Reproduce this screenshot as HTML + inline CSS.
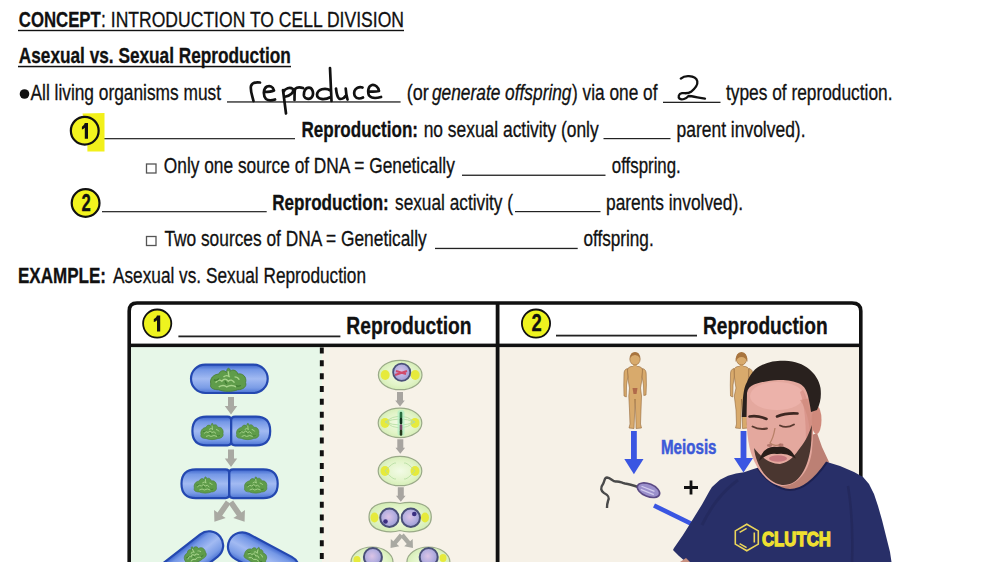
<!DOCTYPE html>
<html><head><meta charset="utf-8"><style>
html,body{margin:0;padding:0;background:#fff;width:1000px;height:562px;overflow:hidden}
svg{display:block}
text{font-family:"Liberation Sans",sans-serif;fill:#111;stroke:#111;stroke-width:0.3}
.b{font-weight:bold}
.i{font-style:italic}
</style></head><body>
<svg width="1000" height="562" viewBox="0 0 1000 562">
<rect width="1000" height="562" fill="#fff"/>
<defs>
<linearGradient id="bac" x1="0" y1="0" x2="0" y2="1">
<stop offset="0" stop-color="#3a62cc"/><stop offset="0.18" stop-color="#7598e6"/><stop offset="0.5" stop-color="#a2baf2"/><stop offset="0.82" stop-color="#7a9ce6"/><stop offset="1" stop-color="#4a72d4"/>
</linearGradient>
<radialGradient id="nuc" cx="0.5" cy="0.5" r="0.5">
<stop offset="0" stop-color="#a8d090"/><stop offset="0.5" stop-color="#6aa050"/><stop offset="1" stop-color="#4a8a3a"/>
</radialGradient>
<radialGradient id="cellg" cx="0.5" cy="0.5" r="0.5">
<stop offset="0" stop-color="#f2fbe6"/><stop offset="0.7" stop-color="#e2f4c8"/><stop offset="1" stop-color="#d6eeb8"/>
</radialGradient>
<radialGradient id="nucl" cx="0.45" cy="0.45" r="0.55">
<stop offset="0" stop-color="#dcc4e6"/><stop offset="0.6" stop-color="#b6b0e0"/><stop offset="1" stop-color="#9c9cd4"/>
</radialGradient>
<g id="nd">
<path d="M-11 3 C-12 -1 -9 -4 -6 -4 C-5 -7 -2 -7 -1 -5 C-1 -9 1 -9 1.5 -6 C3 -8 6 -6 6 -4 C9 -5 12 -2 11 2 C12 5 9 7 6 7 C3 8.5 -3 8.5 -6 7 C-9 7 -12 6 -11 3Z" fill="#5f9c4a" stroke="#4a8038" stroke-width="0.6"/>
<path d="M-8 2 q2-3 4-1 q2-3 4 0 q2-2 4 1 M-6 5 q3-2 5 0 q3-2 6 0 M-3-2 q2-2 4 0 M0 -6 l0.5 4 M4 -2 q2 0 3 2" stroke="#a8d48c" stroke-width="0.9" fill="none"/>
<path d="M-9 0 q2 1 3-1 M5 4 q1 1 3 0 M-2 1 l1 2" stroke="#3e7a30" stroke-width="0.8" fill="none"/>
</g>
<g id="arrL"><path d="M-2.8-12 h5.6 v14.5 h4.3 l-7.1 9.5 l-7.1-9.5 h4.3z" fill="#a9a9a2"/></g>
<g id="arrS"><path d="M-2.2-8.5 h4.4 v10 h3.3 l-5.5 7 l-5.5-7 h3.3z" fill="#a9a9a2"/></g>
<g id="arrM"><path d="M-3-7.2 h6 v8.4 h1.8 l-4.8 6 l-4.8-6 h1.8z" fill="#a8a5a0"/></g>
<g id="arr">
<path d="M-3-8.5 h6 v9 h3.2 l-6.2 8.5 l-6.2-8.5 h3.2z" fill="#a9a9a2"/>
</g>
<g id="cellc">
<ellipse cx="0" cy="0" rx="21.8" ry="14.7" fill="url(#cellg)" stroke="#9aaa88" stroke-width="1.2"/>
<ellipse cx="-15" cy="0" rx="4.5" ry="5" fill="#e6ea3c"/>
<ellipse cx="15" cy="0" rx="4.5" ry="5" fill="#e6ea3c"/>
</g>
</defs>
<!-- TEXT -->
<g font-size="21.2">
<text class="b" x="18.8" y="27" textLength="82" lengthAdjust="spacingAndGlyphs">CONCEPT</text>
<text x="101" y="27" textLength="303" lengthAdjust="spacingAndGlyphs">: INTRODUCTION TO CELL DIVISION</text>
<rect x="18" y="29.8" width="386" height="1.4" fill="#111"/>
<text class="b" x="18.8" y="63" textLength="272" lengthAdjust="spacingAndGlyphs">Asexual vs. Sexual Reproduction</text>
<rect x="18" y="65.8" width="273" height="1.5" fill="#111"/>

<circle cx="24.5" cy="94" r="4.8" fill="#111"/>
<text x="30.5" y="99.5" textLength="190.5" lengthAdjust="spacingAndGlyphs">All living organisms must</text>
<rect x="227" y="101.3" width="173.6" height="1.3" fill="#222"/>
<text x="406.8" y="99.5" textLength="22" lengthAdjust="spacingAndGlyphs">(or</text>
<text class="i" x="432" y="99.5" textLength="139.5" lengthAdjust="spacingAndGlyphs">generate offspring</text>
<text x="572" y="99.5" textLength="85.5" lengthAdjust="spacingAndGlyphs">) via one of</text>
<rect x="663" y="101.7" width="57.5" height="1.3" fill="#222"/>
<text x="726" y="99.5" textLength="166.5" lengthAdjust="spacingAndGlyphs">types of reproduction.</text>

<rect x="102" y="138" width="193" height="1.3" fill="#333"/>
<text class="b" x="301.5" y="137" textLength="116.5" lengthAdjust="spacingAndGlyphs">Reproduction:</text>
<text x="423.7" y="137" textLength="175" lengthAdjust="spacingAndGlyphs">no sexual activity (only</text>
<rect x="603.5" y="138" width="67" height="1.2" fill="#222"/>
<text x="676.5" y="137" textLength="129" lengthAdjust="spacingAndGlyphs">parent involved).</text>

<rect x="146.5" y="164" width="9.5" height="9" fill="none" stroke="#555" stroke-width="1.3"/>
<text x="163.8" y="173" textLength="291" lengthAdjust="spacingAndGlyphs">Only one source of DNA = Genetically</text>
<rect x="462" y="174.6" width="143.5" height="1.3" fill="#222"/>
<text x="611.8" y="173" textLength="69" lengthAdjust="spacingAndGlyphs">offspring.</text>

<rect x="102" y="211" width="164.7" height="1.3" fill="#333"/>
<text class="b" x="272.3" y="210" textLength="116.5" lengthAdjust="spacingAndGlyphs">Reproduction:</text>
<text x="395" y="210" textLength="118" lengthAdjust="spacingAndGlyphs">sexual activity (</text>
<rect x="515" y="211" width="85.5" height="1.2" fill="#222"/>
<text x="606" y="210" textLength="137" lengthAdjust="spacingAndGlyphs">parents involved).</text>

<rect x="146.5" y="236.5" width="9.5" height="9" fill="none" stroke="#555" stroke-width="1.3"/>
<text x="164.4" y="246" textLength="262.3" lengthAdjust="spacingAndGlyphs">Two sources of DNA = Genetically</text>
<rect x="435" y="247.8" width="142.7" height="1.3" fill="#222"/>
<text x="583.4" y="246" textLength="70.3" lengthAdjust="spacingAndGlyphs">offspring.</text>

<text class="b" x="18" y="283" textLength="88" lengthAdjust="spacingAndGlyphs">EXAMPLE:</text>
<text x="113" y="283" textLength="253" lengthAdjust="spacingAndGlyphs">Asexual vs. Sexual Reproduction</text>
</g>

<!-- highlight + circles -->
<path d="M82.5 113.5 L104.5 113 L104.5 151.5 L87.4 151.5 L87.4 140 Z" fill="#f2f01a"/>
<g stroke="#111" stroke-width="2.2" fill="#f2f31e">
<circle cx="84.75" cy="130.7" r="13.9"/>
<circle cx="85.6" cy="203" r="13.9"/>
</g>
<g font-size="22.5" class="b">

<text x="0" y="0" text-anchor="middle" transform="translate(86.1 210.8) scale(0.74 1.03)">2</text>
</g>

<path d="M84.8 123.1 H88 V138.7 H84.8 V127.8 C83.8 128.8 82.8 129.3 81.9 129.6 V126.7 C83 126.2 84.3 124.8 84.8 123.1Z" fill="#111"/>
<!-- handwriting -->
<g fill="none" stroke="#111" stroke-width="2.7" stroke-linecap="round" stroke-linejoin="round">
<path d="M253.5 101 C252 95 250 90 251 86 C252 83 256 82 260 82.5 M264.5 92 C268 92 272 91.5 274 90.5 C273 86.5 270 85.5 267 86.5 C263 88.5 263 96 266 99 C268 100.5 272 100.5 275 99.5 M283 90 L286 113.5 M283.5 92 C285 88 290 87 293 89 C294 92 291 96 284 97 M294.5 100 C294.5 96 294.5 92 295 89 C297 87 300 87 303 88 M309 87.7 C305 87.7 303.5 92 304 96 C305 99.5 311 100 312.5 96 C314 92 312 87.7 309 87.7 M330.5 90.5 C325 87 317.5 89.5 317 94.5 C317 99.5 324 100.5 330.8 97 M330 68 C330.5 80 331 92 331.5 101 M336 88.5 C336.5 93 337 97 339 98.5 C341 99.5 344 98.5 345.5 96 M345.7 88.5 C346 93 346.5 96 347.5 99.5 M362.5 87.5 C359 86.5 355.5 88 354.5 91 C353.5 95 355 98 359 98.5 C360.5 98.5 362 98 363 97.5 M369 91.5 C372 91.8 376 91.8 379 91 C378.5 87 375 84.5 372 85 C368 86 367.5 92 369 95.5 C371 98 376 98.5 381 97"/>
<path stroke-width="2.3" d="M680.8 78.6 C683 76.7 686 76 689 76.2 C693 76.4 696.5 77.7 697.3 81.2 C698 85 695 88.5 691 91.8 C688 94 685 93 682 93.2 C678.5 93.7 677.8 97 679.7 98.8 C682 100.3 686 98.8 688.5 96 C692 96 699 97.8 705 98.6"/>
</g>

<!-- BOX -->
<g id="box">
<!-- panel backgrounds -->
<rect x="129" y="345" width="193" height="220" fill="#e7f7e8"/>
<rect x="322" y="345" width="176" height="220" fill="#f7f2e8"/>
<rect x="498" y="345" width="361" height="220" fill="#f6f1e7"/>
<rect x="326" y="345" width="3" height="220" fill="#f4f3ea"/>
<!-- header bg -->
<path d="M129.2 345 V311 Q129.2 303 137 303 H852 Q860.8 303 860.8 311 V345 Z" fill="#fff"/>
<!-- outer border -->
<path d="M129.2 570 V311 Q129.2 303 137 303 H852 Q860.8 303 860.8 311 V570" fill="none" stroke="#111" stroke-width="3.6"/>
<rect x="129" y="343.6" width="732" height="3.5" fill="#111"/>
<rect x="495.7" y="303" width="3.8" height="270" fill="#111"/>
<line x1="321.8" y1="347.45" x2="321.8" y2="570" stroke="#111" stroke-width="3.9" stroke-dasharray="6 6.85"/>
<!-- bacteria -->
<g stroke="#2448b0" stroke-width="2.2">
<rect x="191" y="364.6" width="76.7" height="28.4" rx="14.2" fill="url(#bac)"/>
<path d="M192.4 430.9 q0-14.2 14.2-14.2 h20.8 q3.8 0 3.8 3.8 v21 q0 3.8-3.8 3.8 h-20.8 q-14.2 0-14.2-14.4z" fill="url(#bac)"/>
<path d="M270.2 430.9 q0-14.2-14.2-14.2 h-20.9 q-3.9 0-3.9 3.8 v21 q0 3.8 3.9 3.8 h20.9 q14.2 0 14.2-14.4z" fill="url(#bac)"/>
<path d="M181.5 483.7 q0-14.4 14.4-14.4 h29.6 q3.8 0 3.8 3.8 v21.2 q0 3.8-3.8 3.8 h-29.6 q-14.4 0-14.4-14.4z" fill="url(#bac)"/>
<path d="M277.7 483.7 q0-14.4-14.4-14.4 h-30.2 q-3.8 0-3.8 3.8 v21.2 q0 3.8 3.8 3.8 h30.2 q14.4 0 14.4-14.4z" fill="url(#bac)"/>
<rect x="-37" y="-14.2" width="74" height="28.4" rx="14.2" fill="url(#bac)" transform="translate(191 559.5) rotate(-38)"/>
<rect x="-38.5" y="-14.2" width="77" height="28.4" rx="14.2" fill="url(#bac)" transform="translate(263.6 558) rotate(28)"/>
</g>
<use href="#nd" transform="translate(228.2 379.8) scale(1.58 1.42)"/>
<use href="#nd" transform="translate(212 431.5)"/>
<use href="#nd" transform="translate(247.7 431.5)"/>
<use href="#nd" transform="translate(205.3 485)"/>
<use href="#nd" transform="translate(255.7 485)"/>
<use href="#nd" transform="translate(194.5 554.5) rotate(-22)"/>
<use href="#nd" transform="translate(256 555) rotate(20)"/>
<use href="#arr" transform="translate(231 405.5)"/>
<use href="#arr" transform="translate(231 458)"/>
<use href="#arrL" transform="translate(221.3 512) rotate(35)"/>
<use href="#arrL" transform="translate(237.7 512) rotate(-35)"/>
<!-- mitosis -->
<use href="#cellc" transform="translate(400.2 375)"/>
<circle cx="401.7" cy="372.2" r="8.6" fill="url(#nucl)" stroke="#4a5078" stroke-width="1.8"/>
<path d="M395 375 l12-4 M396 371 l10 3" stroke="#d04a6a" stroke-width="2"/>
<use href="#arrM" transform="translate(400 399.2)"/>
<use href="#cellc" transform="translate(400 422.9)"/>
<g stroke="#b4dca0" stroke-width="0.8" fill="none">
<path d="M385 422 Q400 410 415 422 M385 422 Q400 434 415 422 M385 422 Q400 416 415 422 M385 422 Q400 428 415 422"/>
</g>
<rect x="397.5" y="410" width="7" height="26" rx="3" fill="#b4f0c4" opacity="0.8"/>
<path d="M401 413 v4.5" stroke="#2a7040" stroke-width="2.6" stroke-linecap="round"/>
<path d="M401 419 v4" stroke="#10301c" stroke-width="2.6" stroke-linecap="round"/>
<path d="M401 425.5 v4" stroke="#7a4868" stroke-width="2.6" stroke-linecap="round"/>
<path d="M401 431 v3.5" stroke="#283a1c" stroke-width="2.6" stroke-linecap="round"/>
<use href="#arrM" transform="translate(400.3 446.5)"/>
<use href="#cellc" transform="translate(400 471)"/>
<g stroke="#b4dca0" stroke-width="0.8" fill="none">
<path d="M385 471 Q393 462 396 463 M385 471 Q393 480 396 479 M415 471 Q407 462 404 463 M415 471 Q407 480 404 479"/>
</g>
<use href="#arrM" transform="translate(400.8 494.5)"/>
<path d="M400 503.5 C392 501.5 369 500.5 369 517 C369 533 392 533 400 530.5 C408 533 431.3 533 431.3 517 C431.3 500.5 408 501.5 400 503.5Z" fill="url(#cellg)" stroke="#9aaa88" stroke-width="1.2"/>
<ellipse cx="374.5" cy="517.5" rx="4" ry="5" fill="#e6ea3c"/>
<ellipse cx="425" cy="517.5" rx="4" ry="5" fill="#e6ea3c"/>
<circle cx="389.4" cy="517.8" r="9.2" fill="url(#nucl)" stroke="#4a5078" stroke-width="2"/>
<circle cx="410.8" cy="517.8" r="9.2" fill="url(#nucl)" stroke="#4a5078" stroke-width="2"/>
<circle cx="385.5" cy="521.5" r="2.3" fill="#3a2e80"/>
<circle cx="414.3" cy="514" r="2.3" fill="#3a2e80"/>
<use href="#arrS" transform="translate(396 541.5) rotate(40)"/>
<use href="#arrS" transform="translate(407.5 541.5) rotate(-40)"/>
<ellipse cx="372" cy="562" rx="21" ry="15" fill="url(#cellg)" stroke="#9aaa88" stroke-width="1.2"/>
<ellipse cx="428.4" cy="562" rx="21.5" ry="15" fill="url(#cellg)" stroke="#9aaa88" stroke-width="1.2"/>
<ellipse cx="357" cy="560" rx="3.5" ry="4" fill="#e6ea3c"/>
<ellipse cx="443" cy="558" rx="3.5" ry="4" fill="#e6ea3c"/>
<circle cx="372.9" cy="557" r="9" fill="url(#nucl)" stroke="#4a5078" stroke-width="2"/>
<circle cx="428.7" cy="557" r="9" fill="url(#nucl)" stroke="#4a5078" stroke-width="2"/>
<!-- right panel -->
<g id="figs" fill="#d8aa6c" stroke="#94683a" stroke-width="0.6">
<path d="M631 366.5 C628 367.5 627 369 627.5 372 L628.5 382 L629.5 388 L628.8 396 L629.5 410 L630 424 L629 428 L634 428.5 L634.2 424 L634.8 408 L635 399 L635.5 408 L636 424 L636 428.5 L641.5 428 L640.5 424 L641 410 L641.5 396 L640.5 388 L641.5 382 L642.5 372 C643 369 642 367.5 639 366.5 Z"/><path d="M627.5 368.5 C625 369 624 371 624 374 L623.8 385 L624 396 L626.3 397 L626.5 385 L627.8 377Z M642.5 368.5 C645 369 646.2 371 646.2 374 L646.4 385 L646 395 L643.8 395.5 L643.5 385 L642.2 377Z"/>
<rect x="633.2" y="363" width="3.6" height="5" stroke="none"/>
<ellipse cx="635" cy="359" rx="5.2" ry="6"/>
<path d="M737.5 366.5 C734.5 367.5 733.5 369 734.0 372 L735.0 382 L736.0 388 L734.3 396 L736.0 410 L736.5 424 L735.5 428 L740.5 428.5 L740.7 424 L741.3 408 L741.5 399 L742.0 408 L742.5 424 L742.5 428.5 L748.0 428 L747.0 424 L747.5 410 L749.0 396 L747.0 388 L748.0 382 L749.0 372 C749.5 369 748.5 367.5 745.5 366.5 Z"/><path d="M734.0 368.5 C731.5 369 730.5 371 730.5 374 L730.3 385 L730.5 396 L732.8 397 L733.0 385 L734.3 377Z M749.0 368.5 C751.5 369 752.7 371 752.7 374 L752.9 385 L752.5 395 L750.3 395.5 L750.0 385 L748.7 377Z"/>
<rect x="739.7" y="363" width="3.6" height="5" stroke="none"/>
<ellipse cx="741.5" cy="359" rx="5.2" ry="6"/>
</g>
<path d="M630 358 q0-6 5-6 q5 0 5 6 q-2-3-5-3 q-3 0-5 3z M735.5 362 q0-10 6-10 q6 0 6 10 q-2-5-6-5 q-4 0-6 5z" fill="#a8743e"/>
<path d="M632.5 388 h5 l-1 6 h-3z" fill="#b06a4a"/>
<g fill="#3a56e2">
<rect x="631" y="431" width="5.8" height="29"/>
<path d="M624.3 459 h19.2 l-9.6 15.2z"/>
<rect x="740.6" y="431" width="5.8" height="28"/>
<path d="M734 458 h19 l-9.5 14.5z"/>
</g>
<text class="b" x="661" y="454" font-size="19.5" textLength="55.5" lengthAdjust="spacingAndGlyphs" style="fill:#3d5ad8;stroke:#3d5ad8;stroke-width:0.5">Meiosis</text>
<path d="M691 480.5 v14 M684 487.5 h14" stroke="#111" stroke-width="2.8"/>
<line x1="654" y1="505.5" x2="700" y2="528" stroke="#3a56e2" stroke-width="4.6"/>
<path d="M638 487 C632 485 628 484 625 483.5 C621 482.5 619 481 616 481.5 C613 482 611 478 607 477.5 C604 477.5 605 481 603 484 C600 488 601 491 604 493 C608 495 610 497 608 501 C607 504 607 506 607 508" stroke="#4a4a4a" stroke-width="2.4" fill="none"/>
<ellipse cx="648.5" cy="490.2" rx="11.8" ry="6.3" transform="rotate(22 648.5 490.2)" fill="#9b90cc" stroke="#5b4a84" stroke-width="1.6"/>
<path d="M641.5 486.2 l13 5.2 M640.8 489.4 l13 5.2" stroke="#d2cbee" stroke-width="1.2"/>
<!-- header content -->
<g stroke="#111" stroke-width="1.8" fill="#eef31f">
<circle cx="157.2" cy="323.6" r="14.1"/>
<circle cx="536" cy="323.6" r="14.1"/>
</g>
<g font-size="23" class="b">

<text x="0" y="0" text-anchor="middle" transform="translate(536.5 330.8) scale(0.8 1)">2</text>
</g>
<path d="M157 315.5 H160.2 V331.6 H157 V320.3 C156 321.3 154.9 321.8 153.8 322.1 V319.1 C155 318.6 156.5 317.2 157 315.5Z" fill="#111"/>
<rect x="178.4" y="335.5" width="162" height="1.8" fill="#222"/>
<rect x="556" y="334.7" width="141" height="1.8" fill="#222"/>
<g font-size="23" class="b">
<text x="346.3" y="334" textLength="125.3" lengthAdjust="spacingAndGlyphs">Reproduction</text>
<text x="703" y="333.5" textLength="124.6" lengthAdjust="spacingAndGlyphs">Reproduction</text>
</g>
</g>
<!-- person -->
<g id="person">
<path d="M758 462 C764 480 776 494 790 494 C806 494 820 480 829 462 L822 447 L817 433 L768 452Z" fill="#bc8074"/>
<path d="M686 562 L679 556 L673 550 L674 548 L683 535 L692.4 520 L702 504.5 L709.5 491 L712 487 L720 479.8 L728 475.8 L736 473.4 L744 472.2 L752 469.4 L757.6 467.8 C766 480 778 490 790 490 C804 490 816 478 827 462 L840 466 L854 472 L863 477 L869 484 L874 494 L878 506 L882 520 L886 536 L890 552 L891.5 562Z" fill="#282f68"/>
<path d="M848 486 C852 510 853 535 852 562" stroke="#1f2352" stroke-width="2.5" fill="none" opacity="0.5"/>
<path d="M680 562 L686 558 L690 562Z" fill="#c89080"/>
<path d="M702 525 C712 505 722 492 738 480" stroke="#1e2250" stroke-width="3" fill="none" opacity="0.35"/>

<path d="M757.6 467.8 C766 480 778 490 790 490 C804 490 816 478 827 462" stroke="#1d2150" stroke-width="2.2" fill="none"/>
<path d="M747 388 C745.5 410 746 440 752 456 C758 472 770 486 782 486 C798 486 810 470 812 450 C814 430 813 410 810 395 C806 384 795 379 782 379 C765 379 752 381 747 388Z" fill="#e4a89e"/>
<ellipse cx="777" cy="396" rx="27" ry="14" fill="#ecb2aa"/>
<path d="M803 390 C809 400 812 420 811 445 L806 445 C806 425 805 405 800 392Z" fill="#d48a80" opacity="0.6"/>
<ellipse cx="816.5" cy="420" rx="5" ry="14" fill="#d08a7c"/>
<path d="M800 400 C808 410 811 430 810 445 L812 440 C814 425 814 410 812 398Z" fill="#d08a7c" opacity="0.7"/>
<path d="M741.8 417 L742.5 405.5 C743 395 744 387 747 382 C750 374 755 368 762 365 C770 361 778 360.5 785 360.7 C795 361 803 364 809 369 C815 374 819 380 820.5 388 C821.5 396 820.5 403 817 410 L811 412 C810 405 809 400 808 396 C806 388 803 385 798 383 C792 380.5 785 380 778 380 C770 380.5 760 382 754 384.5 C750 386 747.5 389 747 393 L746.5 417 Z" fill="#29211e"/>
<path d="M749.5 416.5 C755 415.5 761 416.5 766.5 419 M777 416.5 C783 414 790 413 797.5 413.5" stroke="#3e2822" stroke-width="2.6" fill="none" stroke-linecap="round"/>
<path d="M752.5 426.5 C757 429 762 429.5 767 428.5 M780 425.5 C784 427.5 789 427.5 794 424.5" stroke="#5a3a30" stroke-width="1.8" fill="none" stroke-linecap="round"/>
<path d="M775 428 C774 434 772 440 770 443 C773 446 778 446 781 444" stroke="#b88068" stroke-width="1.3" fill="none"/>
<path d="M754 448 C756 465 766 482 782 485 C798 486 808 470 811 445 L812 425 C809 433 806 441 800 448 C795 455 790 462 780 464 C770 464 762 458 754 448Z" fill="#4a3630"/>
<path d="M761 458 C764 450 771 446.5 777 448 C783 446.5 790 449 793.5 456 C788 453 783 452 777 453 C771 452 766 454 761 458Z" fill="#2a1e1a" stroke="#2a1e1a" stroke-width="2"/>
<ellipse cx="769.5" cy="445.5" rx="2.6" ry="1.4" fill="#a86a62" opacity="0.8"/><ellipse cx="781" cy="445" rx="2.6" ry="1.4" fill="#a86a62" opacity="0.8"/>
<ellipse cx="778" cy="458.5" rx="9" ry="3.2" fill="#c87a80"/>
<g fill="none" stroke="#ecd65a" stroke-width="1.6">
<path d="M746.8 524.2 L758.3 530.85 V544.15 L746.8 550.8 L735.3 544.15 V530.85Z"/>
<path d="M739.6 532.4 L746.6 528.4 M754.3 532.5 V542.5 M739.6 543.6 L746.6 547.6"/>
</g>
<text class="b" x="761.9" y="545.5" font-size="20.5" textLength="69" lengthAdjust="spacingAndGlyphs" style="fill:#efe030;stroke:#efe030;stroke-width:1.3">CLUTCH</text>
</g>
</svg>
</body></html>
